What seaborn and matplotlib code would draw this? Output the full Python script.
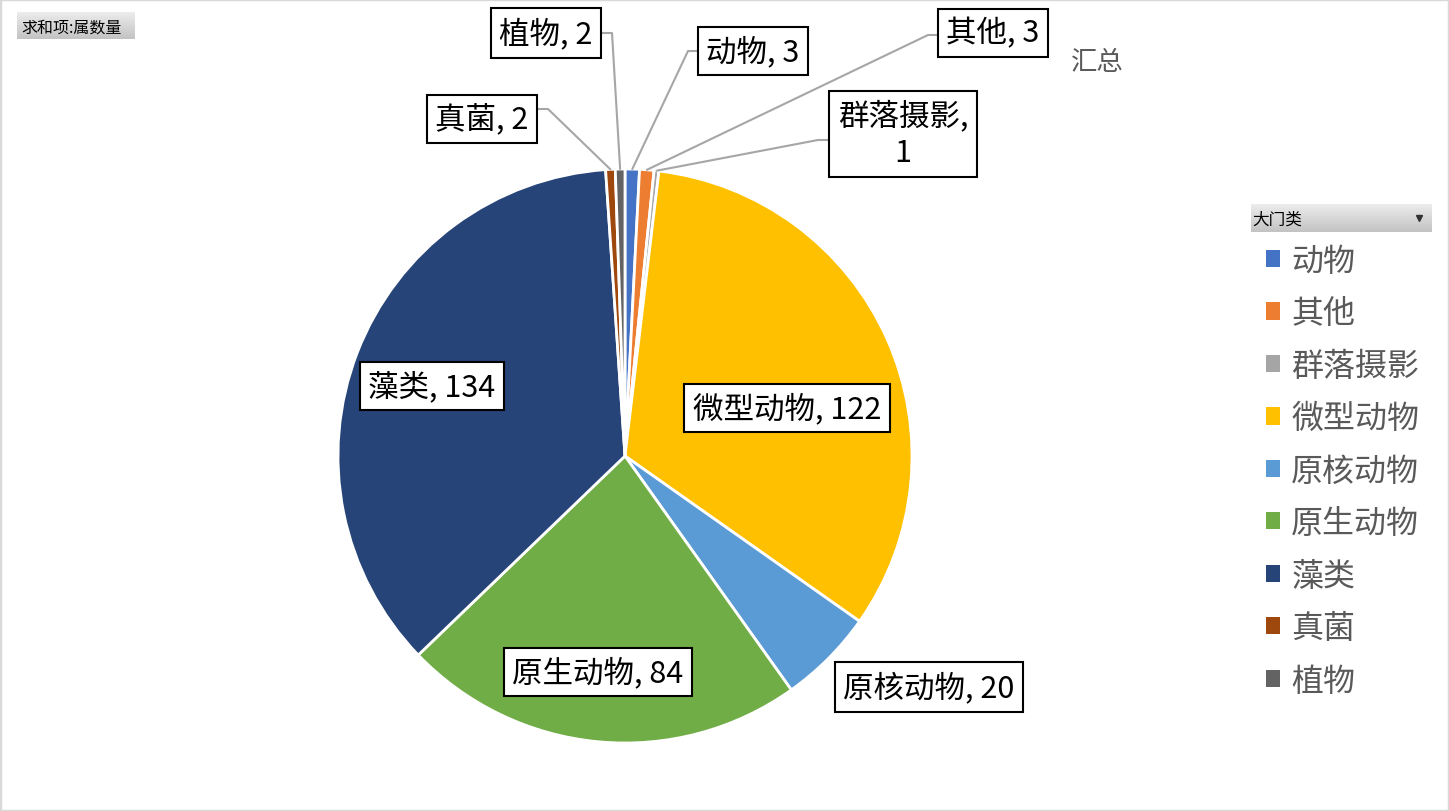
import numpy as np
import matplotlib
matplotlib.use("Agg")
import matplotlib.pyplot as plt
import seaborn as sns
from matplotlib.patches import Patch, Rectangle

# data
categories = ["动物", "其他", "群落摄影", "微型动物", "原核动物", "原生动物", "藻类", "真菌", "植物"]
counts = [3, 3, 1, 122, 20, 84, 134, 2, 2]
colors = ["#4472C4", "#ED7D31", "#A5A5A5", "#FFC000", "#5B9BD5",
          "#70AD47", "#264478", "#9E480E", "#636363"]
label_texts = ["动物, 3", "其他, 3", "群落摄影,\n1", "微型动物, 122", "原核动物, 20",
               "原生动物, 84", "藻类, 134", "真菌, 2", "植物, 2"]

# layout (pixels, y from top)
W, H = 1449, 812
CX, CY, R = 625, 457, 287
label_xy = [(753, 52), (993, 34), (903, 135), (787, 409), (929, 688),
            (598, 673), (432, 387), (482, 120), (546, 34)]
# leader lines for the small slices: elbow point and point inside the box
leaders = {0: ((688, 52), (753, 52)), 1: ((928, 36), (993, 36)),
           2: ((818, 141), (903, 141)), 7: ((548, 110), (482, 110)),
           8: ((612, 34), (546, 34))}

sns.set_theme(style="white")
plt.rcParams['font.family'] = ['Noto Sans CJK SC', 'DejaVu Sans']


def p2d(px, py):
    return (px - CX) / R, (CY - py) / R


fig = plt.figure(figsize=(W / 100, H / 100), dpi=100)
ax = fig.add_axes([0, 0, 1, 1])
wedges, _ = ax.pie(counts, colors=colors, startangle=90, counterclock=False,
                   radius=1, wedgeprops=dict(edgecolor="white", linewidth=2))
ax.set_xlim(-CX / R, (W - CX) / R)
ax.set_ylim((CY - H) / R, CY / R)
ax.set_aspect("auto")
ax.axis("off")

total = sum(counts)
cum = np.cumsum([0] + counts)
for i, txt in enumerate(label_texts):
    mid = (cum[i] + cum[i + 1]) / 2 / total * 2 * np.pi
    edge = (np.sin(mid) * 1.0, np.cos(mid) * 1.0)
    if i in leaders:
        (ex, ey), (bx, by) = leaders[i]
        e = p2d(ex, ey)
        b = p2d(bx, by)
        ax.plot([edge[0], e[0], b[0]], [edge[1], e[1], b[1]],
                color="#a6a6a6", lw=1.5, zorder=3, clip_on=False)
    tx, ty = p2d(*label_xy[i])
    ax.text(tx, ty, txt, ha="center", va="center", fontsize=22, color="black",
            linespacing=1.25, zorder=5,
            bbox=dict(boxstyle="square,pad=0.28", fc="white", ec="black", lw=1.5))

# series name
fig.text(1097 / W, 1 - 62 / H, "汇总", ha="center", va="center",
         fontsize=19, color="#595959")


def gradient_button(x0, y0, x1, y1):
    bax = fig.add_axes([x0 / W, 1 - y1 / H, (x1 - x0) / W, (y1 - y0) / H])
    grad = np.linspace(0, 1, 50).reshape(-1, 1)
    bax.imshow(grad, aspect="auto", cmap=matplotlib.colors.LinearSegmentedColormap.from_list(
        "btn", ["#ececec", "#c3c3c3"]), extent=[0, 1, 0, 1], origin="upper")
    bax.set_xlim(0, 1)
    bax.set_ylim(0, 1)
    bax.axis("off")
    return bax


b1 = gradient_button(17, 13, 135, 40)
b1.text(0.04, 0.45, "求和项:属数量", ha="left", va="center", fontsize=11.5, color="black")

b2 = gradient_button(1251, 205, 1432, 233)
b2.text(0.005, 0.45, "大门类", ha="left", va="center", fontsize=12, color="black")
b2.plot([0.93], [0.5], marker="v", color="#333333", markersize=4)

# legend
handles = [Patch(facecolor=c, edgecolor="none") for c in colors]
fig.legend(handles, categories, loc="upper left",
           bbox_to_anchor=(1266 / W, 1 - 246 / H), frameon=False,
           fontsize=23, labelcolor="#595959", handlelength=0.45, handleheight=0.45,
           handletextpad=0.34, labelspacing=0.64, borderaxespad=0, borderpad=0)

# chart area border
fig.patches.append(Rectangle((0, 0), 1, 1, transform=fig.transFigure, fill=False,
                             ec="#d9d9d9", lw=2.5))

fig.savefig("out.png", dpi=100)
